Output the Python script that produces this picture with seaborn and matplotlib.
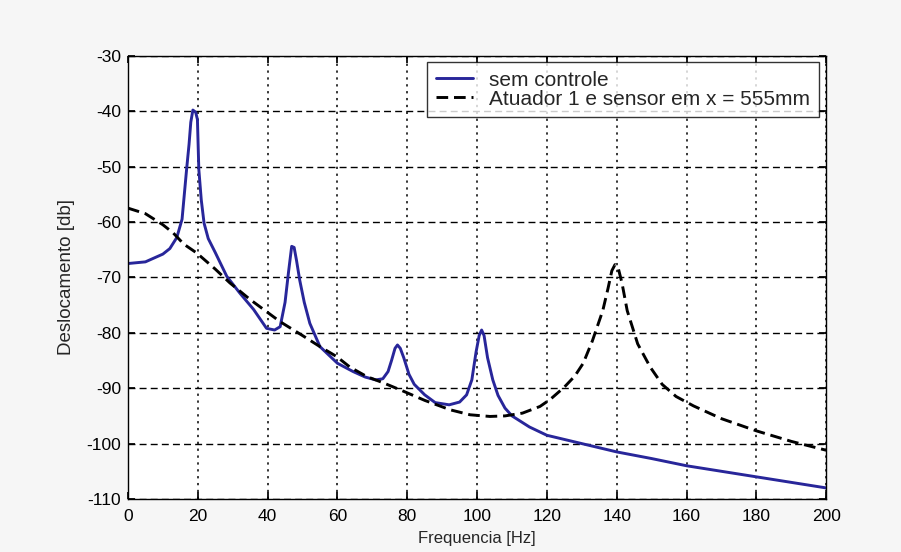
import numpy as np
import pandas as pd
import matplotlib
matplotlib.use("Agg")
import matplotlib.pyplot as plt
import seaborn as sns

# Blue curve: sem controle
freq_sem = [0, 5, 10, 12, 14, 15.5, 16.8, 17.5, 18.0, 18.6, 19.4, 19.9, 20.3, 21.0, 21.8, 23, 25, 28.3, 32, 36, 39.7, 42, 43.6, 45, 46, 46.9, 47.6, 48.3, 49.2, 50.5, 52.1, 55, 60, 64.5, 68, 71, 73, 74.5, 75.5, 76.5, 77.2, 78, 79, 80.5, 82, 85, 88, 92, 95, 97, 98.5, 99.7, 100.6, 101.3, 102.0, 103, 104.5, 106, 108, 110, 115, 120, 130, 140, 150, 160, 170, 180, 190, 200]
db_sem = [-67.5, -67.2, -65.8, -64.8, -62.8, -59.5, -50.5, -46, -42, -39.8, -40.2, -41.5, -50.5, -56, -60.2, -63, -65.5, -69.8, -72.8, -75.8, -79.2, -79.5, -78.9, -74.5, -69, -64.4, -64.6, -67, -70.5, -74.5, -78.3, -82.5, -85.5, -87, -88, -88.5, -88.3, -87, -85, -82.8, -82.2, -82.8, -84.5, -87.5, -89.3, -91.2, -92.6, -93, -92.5, -91.2, -88.5, -83.5, -80.5, -79.5, -80.5, -84.5, -88.5, -91.3, -93.6, -95, -97, -98.5, -100, -101.5, -102.7, -104, -105, -106, -107, -108]

# Dashed curve: Atuador 1 e sensor em x = 555mm
freq_atu = [0, 5, 10, 13, 16, 19.7, 25, 29.2, 35, 43.6, 50, 55, 59.8, 63.6, 68.4, 73, 78, 85, 92.3, 98, 103.7, 108, 113, 118, 121, 125, 128, 130.4, 133, 136, 137.5, 138.6, 139.5, 140.5, 141.5, 143, 146, 149.6, 153, 157, 162, 170, 180, 190, 200]
db_atu = [-57.5, -58.5, -60.5, -62, -64, -65.6, -68.5, -71, -74, -78, -80.5, -82.5, -84.3, -86.2, -87.9, -89, -90.3, -92.2, -93.9, -94.8, -95.1, -95, -94.5, -93.3, -92, -89.8, -87.8, -85.5, -81.5, -76, -72, -68.8, -67.7, -68.5, -71, -76, -82, -86.2, -89.3, -91.5, -93.2, -95.5, -97.7, -99.6, -101.2]

labels = ["sem controle", "Atuador 1 e sensor em x = 555mm"]

df = pd.concat([
    pd.DataFrame({"Frequencia": freq_sem, "db": db_sem, "serie": labels[0]}),
    pd.DataFrame({"Frequencia": freq_atu, "db": db_atu, "serie": labels[1]}),
])

sns.set_theme(style="white")
plt.rcParams["font.family"] = ["Liberation Sans", "DejaVu Sans"]
plt.rcParams["axes.unicode_minus"] = False

fig = plt.figure(figsize=(9.01, 5.52), dpi=100, facecolor="#f6f6f6")
ax = fig.add_axes([0.142, 0.096, 0.775, 0.803])
ax.set_facecolor("white")

sns.lineplot(data=df, x="Frequencia", y="db", hue="serie", style="serie",
             palette={labels[0]: "#28269a", labels[1]: "black"},
             dashes={labels[0]: "", labels[1]: (4, 2)},
             linewidth=2.1, sort=False, estimator=None, ax=ax)

ax.set_xlim(0, 200)
ax.set_ylim(-110, -30)
ax.set_xticks(np.arange(0, 201, 20))
ax.set_yticks(np.arange(-110, -29, 10))
ax.xaxis.grid(True, color="black", linestyle=(0, (1.5, 3.0)), linewidth=1.1)
ax.yaxis.grid(True, color="black", linestyle=(0, (5, 3)), linewidth=1.0)
ax.tick_params(direction="in", length=5, labelsize=12.5, colors="black", pad=5,
               top=True, right=True, bottom=True, left=True)
ax.tick_params(axis="x", pad=7)
for s in ax.spines.values():
    s.set_color("black")
    s.set_linewidth(1.0)

ax.set_xlabel("Frequencia [Hz]", fontsize=12, labelpad=5)
ax.set_ylabel("Deslocamento [db]", fontsize=13.5, labelpad=8)

handles, lbls = ax.get_legend_handles_labels()
leg = ax.legend(handles, lbls, loc="upper right", fontsize=15, frameon=True, fancybox=False,
                handlelength=1.8, handletextpad=0.75, borderpad=0.42, labelspacing=0.0,
                bbox_to_anchor=(0.989, 0.986), borderaxespad=0)
leg.get_frame().set_edgecolor("black")
leg.get_frame().set_linewidth(1.0)

fig.savefig("out.png", dpi=100, facecolor=fig.get_facecolor())
